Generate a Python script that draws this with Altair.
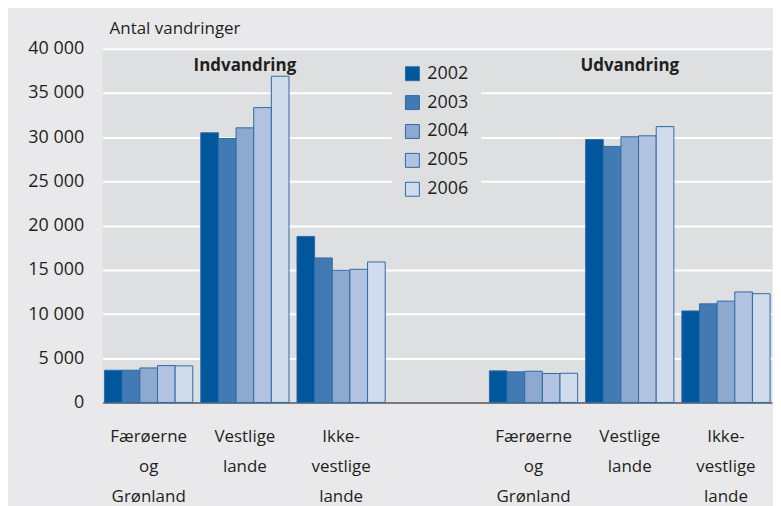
import altair as alt
import pandas as pd

# ---- data ----
years = ["2002", "2003", "2004", "2005", "2006"]
slots = [
    "ind:Færøerne|og|Grønland",
    "ind:Vestlige|lande",
    "ind:Ikke-|vestlige|lande",
    "gap:",
    "ud:Færøerne|og|Grønland",
    "ud:Vestlige|lande",
    "ud:Ikke-|vestlige|lande",
]
ind_faer = [3640, 3640, 3900, 4170, 4130]
ind_vest = [30500, 29860, 31060, 33350, 36900]
ind_ikke = [18780, 16340, 14950, 15060, 15890]
ud_faer = [3570, 3460, 3530, 3270, 3300]
ud_vest = [29750, 28960, 30050, 30160, 31200]
ud_ikke = [10350, 11150, 11460, 12500, 12300]

headings = ["Indvandring", "Udvandring"]
heading_slots = ["ind:Vestlige|lande", "ud:Vestlige|lande"]
y_title = "Antal vandringer"

colors = ["#00579c", "#427ab3", "#8ea9d0", "#b1c3e0", "#d0dbeb"]

series = {
    slots[0]: ind_faer, slots[1]: ind_vest, slots[2]: ind_ikke,
    slots[4]: ud_faer, slots[5]: ud_vest, slots[6]: ud_ikke,
}
rows = []
for s, vals in series.items():
    for y, v in zip(years, vals):
        rows.append({"slot": s, "year": y, "value": v})
df = pd.DataFrame(rows)
df_head = pd.DataFrame({"slot": heading_slots, "text": headings})

FONT = "Open Sans"
TXT = "#231f20"

x_scale = alt.Scale(domain=slots, paddingInner=0.083, paddingOuter=0.02)

bars = alt.Chart(df).mark_bar(stroke="#2f6aa7", strokeWidth=1).encode(
    x=alt.X("slot:N", scale=x_scale, sort=slots,
            axis=alt.Axis(title=None, labelExpr="split(split(datum.label, ':')[1], '|')",
                          labelAngle=0, ticks=False, domain=True, domainColor="#77787b",
                          domainWidth=2, labelFont=FONT, labelFontSize=17, labelColor=TXT,
                          labelPadding=26, labelLineHeight=30, labelBaseline="top",
                          grid=False)),
    xOffset=alt.XOffset("year:N", sort=years),
    y=alt.Y("value:Q", scale=alt.Scale(domain=[0, 40000], nice=False),
            axis=alt.Axis(title=None, values=list(range(0, 40001, 5000)),
                          labelExpr="datum.value >= 1000 ? floor(datum.value/1000) + ' 000' : '' + datum.value",
                          ticks=False, domain=False, grid=True, gridColor="white", gridWidth=2,
                          labelFont=FONT, labelFontSize=18, labelColor=TXT, labelPadding=19)),
    color=alt.Color("year:N", sort=years, scale=alt.Scale(domain=years, range=colors),
                    legend=alt.Legend(title=None, orient="none", legendX=290, legendY=4,
                                      fillColor="#dedfe1", padding=12, symbolType="square",
                                      symbolSize=196, symbolStrokeColor="#2f6aa7",
                                      symbolStrokeWidth=1, labelFont=FONT, labelFontSize=18,
                                      labelColor=TXT, rowPadding=11, labelOffset=6)),
)

heads = alt.Chart(df_head).mark_text(font=FONT, fontSize=17, fontWeight="bold",
                                      color=TXT, baseline="middle").encode(
    x=alt.X("slot:N", scale=x_scale, sort=slots),
    y=alt.value(17),
    text="text:N",
)

ytitle = alt.Chart(pd.DataFrame({"t": [y_title]})).mark_text(
    font=FONT, fontSize=17, color=TXT, align="left", baseline="middle").encode(
    x=alt.value(7), y=alt.value(-20), text="t:N")

chart = alt.layer(bars, heads, ytitle).properties(
    width=672, height=355,
    autosize=alt.AutoSizeParams(type="none"),
    padding={"left": 95, "top": 40, "right": 1, "bottom": 103},
    background="#e9e9eb",
).configure_view(fill="#dedfe1", stroke=None)

chart.save("out.html", embed_options={"renderer": "svg", "actions": False})
